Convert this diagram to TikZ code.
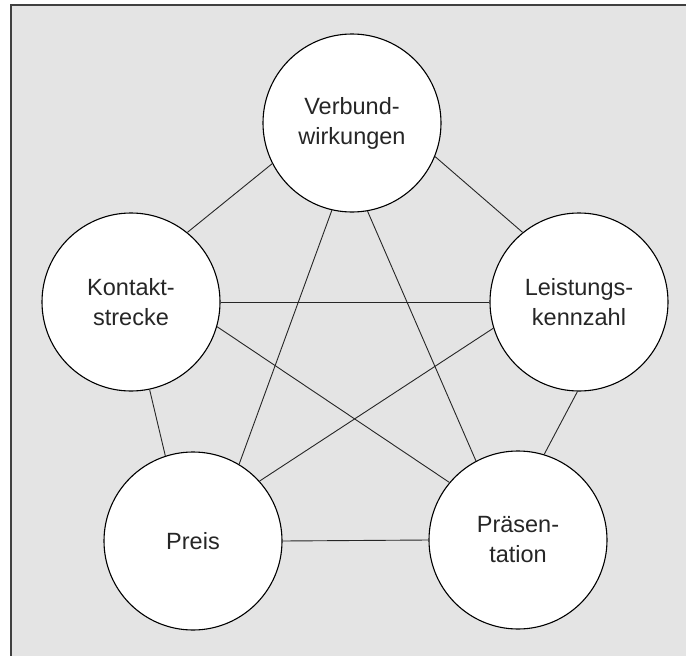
\documentclass[tikz,border=0pt]{standalone}
\usepackage{fontspec}
\setmainfont{Liberation Sans}
\definecolor{bg}{HTML}{E4E4E4}
\definecolor{frame}{HTML}{404040}
\begin{document}
\begin{tikzpicture}[x=1pt,y=-1pt,
  topic/.style={circle,draw=black,fill=white,line width=1.1pt,minimum size=178pt,inner sep=0pt,align=center,font=\fontsize{23.5}{30}\selectfont,text=black!85},
  link/.style={draw=black!85,line width=0.9pt}]
\useasboundingbox (0,0) rectangle (686,656);
\fill[bg] (11,5) rectangle (686,656);
\draw[line width=2pt,frame] (11,656) -- (11,5) -- (686,5);
\node[topic] (V) at (352,123) {Verbund-\\wirkungen};
\node[topic] (K) at (131,302) {Kontakt-\\strecke};
\node[topic] (L) at (579,302) {Leistungs-\\kennzahl};
\node[topic] (P) at (193,541) {Preis};
\node[topic] (Pr) at (518,540) {Präsen-\\tation};
\draw[link] (V.207) -- (K.51);
\draw[link] (V.-22) -- (L.129);
\draw[link] (V.-103) -- (P.59);
\draw[link] (V.-80) -- (Pr.118);
\draw[link] (K.0) -- (L.180);
\draw[link] (K.-16) -- (Pr.140);
\draw[link] (K.-78) -- (P.108);
\draw[link] (L.197) -- (P.42);
\draw[link] (L.-91) -- (Pr.73);
\draw[link] (P.0) -- (Pr.180);
\end{tikzpicture}
\end{document}
